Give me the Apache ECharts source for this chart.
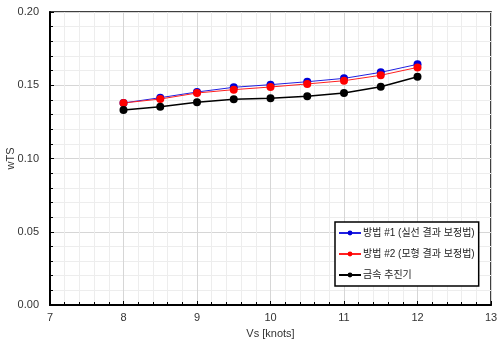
<!DOCTYPE html>
<html><head><meta charset="utf-8">
<script src="https://cdn.jsdelivr.net/npm/echarts@6/dist/echarts.min.js"></script>
<style>html,body{margin:0;padding:0;background:#fff}#c{width:500px;height:346px}</style>
</head><body><div id="c"></div>
<script>
const speeds = [8, 8.5, 9, 9.5, 10, 10.5, 11, 11.5, 12];
const method1 = [0.1379, 0.1415, 0.1454, 0.1486, 0.1504, 0.1524, 0.1547, 0.1588, 0.1643];
const method2 = [0.1379, 0.1406, 0.1447, 0.1470, 0.1488, 0.1509, 0.1531, 0.1568, 0.1622];
const metal   = [0.1331, 0.1354, 0.1384, 0.1404, 0.1411, 0.1425, 0.1447, 0.1490, 0.1558];
const names = ['방법 #1 (실선 결과 보정법)', '방법 #2 (모형 결과 보정법)', '금속 추진기'];
const font = '"Liberation Sans", Arial, "Noto Sans CJK KR", sans-serif';
const pair = (ys) => speeds.map((x, i) => [x, ys[i]]);
const chart = echarts.init(document.getElementById('c'), null, {renderer: 'canvas'});
chart.setOption({
  animation: false,
  grid: {left: 50, right: 9, top: 12, bottom: 41, show: true, borderColor: '#000', borderWidth: 1.5,
         containLabel: false, outerBoundsMode: 'none'},
  xAxis: {
    type: 'value', min: 7, max: 13, interval: 1,
    name: 'Vs [knots]', nameLocation: 'middle', nameGap: 23, nameMoveOverlap: false,
    nameTextStyle: {fontFamily: font, fontSize: 11, color: '#333'},
    axisLine: {show: true, lineStyle: {color: '#000', width: 2}},
    axisTick: {show: true, inside: true, length: 4, lineStyle: {color: '#000'}},
    minorTick: {show: true, splitNumber: 5, length: 3, lineStyle: {color: '#000'}},
    axisLabel: {fontFamily: font, fontSize: 11, color: '#333', margin: 7},
    splitLine: {show: true, lineStyle: {color: '#d6d6d6', width: 1}},
    minorSplitLine: {show: true, lineStyle: {color: '#ededed', width: 1}}
  },
  yAxis: {
    type: 'value', min: 0, max: 0.2, interval: 0.05,
    name: 'wTS', nameLocation: 'middle', nameGap: 34, nameMoveOverlap: false,
    nameTextStyle: {fontFamily: font, fontSize: 11, color: '#333'},
    axisLine: {show: true, lineStyle: {color: '#000', width: 2}},
    axisTick: {show: true, inside: true, length: 4, lineStyle: {color: '#000'}},
    minorTick: {show: true, splitNumber: 5, length: 3, lineStyle: {color: '#000'}},
    axisLabel: {fontFamily: font, fontSize: 11, color: '#333', margin: 11, formatter: v => v.toFixed(2)},
    splitLine: {show: true, lineStyle: {color: '#d6d6d6', width: 1}},
    minorSplitLine: {show: true, lineStyle: {color: '#ededed', width: 1}}
  },
  legend: {
    orient: 'vertical', left: 335, top: 222,
    backgroundColor: '#fff', borderColor: '#000', borderWidth: 1.5, borderRadius: 0,
    padding: [6, 4, 6, 3], itemGap: 11, itemWidth: 22, itemHeight: 6,
    textStyle: {fontFamily: font, fontSize: 10, color: '#222', padding: [0, 0, 0, -3]},
    data: names
  },
  series: [
    {name: names[0], type: 'line', data: pair(method1), color: '#0000e0', symbol: 'circle', symbolSize: 8,
     lineStyle: {width: 1, color: '#2020e0'}, itemStyle: {color: '#0000d8'}},
    {name: names[1], type: 'line', data: pair(method2), color: '#ff0000', symbol: 'circle', symbolSize: 8,
     lineStyle: {width: 1, color: '#ff2020'}, itemStyle: {color: '#ff0000'}},
    {name: names[2], type: 'line', data: pair(metal), color: '#000', symbol: 'circle', symbolSize: 8,
     lineStyle: {width: 1.5, color: '#000'}, itemStyle: {color: '#000'}}
  ]
});
</script></body></html>
